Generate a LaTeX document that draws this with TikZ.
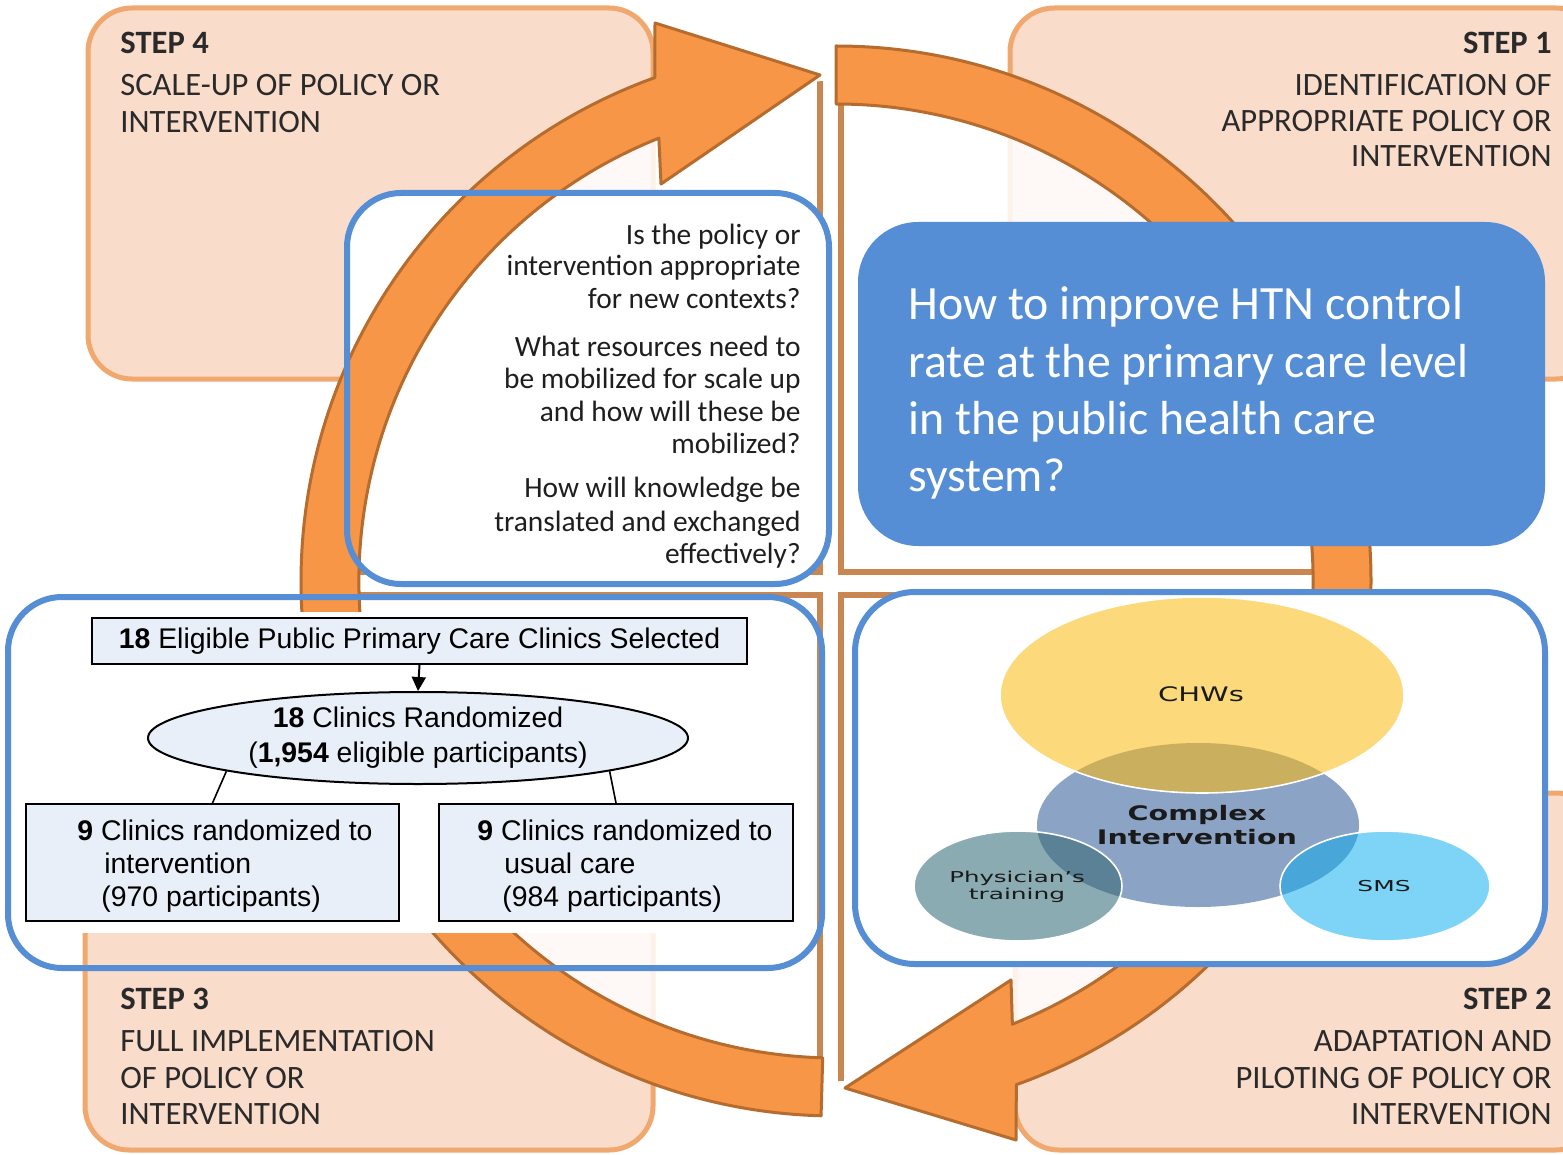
\documentclass[tikz,border=0pt]{standalone}
\usepackage{fontspec}
\usepackage{graphicx}
\setmainfont{Carlito}
\newfontfamily\arialf{Liberation Sans}
\newfontfamily\venf{DejaVu Sans}
\usetikzlibrary{shapes.geometric,arrows.meta,calc}
\definecolor{stepfill}{HTML}{FADCCB}
\definecolor{stepdraw}{HTML}{F0A86E}
\definecolor{ringfill}{HTML}{F79646}
\definecolor{ringdraw}{HTML}{B56C2E}
\definecolor{paneldraw}{HTML}{C98650}
\definecolor{bluebox}{HTML}{558ED5}
\definecolor{flowfill}{HTML}{E9EFF8}
\definecolor{txt}{HTML}{2A2A2A}
\definecolor{qcol}{HTML}{1E1E1E}
\definecolor{vchw}{HTML}{FCD97A}
\definecolor{vcplx}{HTML}{8BA3C5}
\definecolor{vchwcplx}{HTML}{C9AF5E}
\definecolor{vphys}{HTML}{8AABB1}
\definecolor{vphyscplx}{HTML}{5A8196}
\definecolor{vsms}{HTML}{7ED4F6}
\definecolor{vsmscplx}{HTML}{48A6D8}
\definecolor{vtext}{HTML}{1A1A1A}
\begin{document}
\begin{tikzpicture}[x=0.5pt,y=-0.5pt,
  stepbox/.style={draw=stepdraw, line width=2.5pt, fill=stepfill, rounded corners=22pt},
  panel/.style={draw=paneldraw, line width=3pt, fill=white, fill opacity=0.85},
  ring/.style={fill=ringfill, draw=ringdraw, line width=1.5pt, line join=round},
  blueline/.style={draw=bluebox, line width=3pt, rounded corners=27pt},
  steptitle/.style={inner sep=0pt, text=txt, font=\fontsize{16.3}{19}\selectfont\bfseries},
  steptxt/.style={inner sep=0pt, text=txt, font=\fontsize{16.3}{19}\selectfont},
  qtxt/.style={inner sep=0pt, text=qcol, anchor=base east, font=\fontsize{14.7}{17}\selectfont},
  htn/.style={inner sep=0pt, text=white, anchor=base west, font=\fontsize{23.9}{28}\selectfont},
  fnode/.style={draw=black, line width=1pt, fill=flowfill, inner sep=0pt, font=\arialf\fontsize{14.2}{17}\selectfont},
  ftxt/.style={inner sep=0pt, anchor=base west, font=\arialf\fontsize{14.2}{17}\selectfont},
  vtxt/.style={inner sep=0pt, anchor=base, text=vtext},
  vline/.style={draw=white, line width=0.8pt}
]
\useasboundingbox (0,0) rectangle (1563,1155);
\clip (0,0) rectangle (1563,1155);
\fill[white] (0,0) rectangle (1563,1155);

% step boxes
\draw[stepbox] (88,8) rectangle (653,379);
\draw[stepbox] (1010,8) rectangle (1600,379);
\draw[stepbox] (85,780) rectangle (653,1150);
\draw[stepbox] (1015,793) rectangle (1600,1150);

% central panels
\begin{scope}
\clip (836,581) circle[radius=500];
\draw[panel] (250,20) rectangle (820,572);
\draw[panel] (841,20) rectangle (1420,572);
\draw[panel] (250,595) rectangle (820,1150);
\draw[panel] (841,595) rectangle (1420,1150);
\end{scope}

% question box background
\fill[white, rounded corners=27pt] (347,193) rectangle (829,584);

% circular arrows
\path[ring] ($(836,581)+(91.6:535)$) arc[start angle=91.6, end angle=250.2, radius=535]
  -- (655,23) -- (820,75) -- (661,184)
  -- ($(836,581)+(248.2:477)$) arc[start angle=248.2, end angle=91.6, radius=477] -- cycle;
\path[ring] ($(836,581)+(-90:535)$) arc[start angle=-90, end angle=70.3, radius=535]
  -- (1016,1140) -- (845,1088) -- (1011,980)
  -- ($(836,581)+(68.3:477)$) arc[start angle=68.3, end angle=-90, radius=477] -- cycle;

% covering boxes
\fill[white] (14,612) rectangle (806,933);
\fill[white, rounded corners=30pt] (855,592) rectangle (1545,964);
\fill[bluebox, rounded corners=30pt] (858,222) rectangle (1545,546);

% blue outlines
\draw[blueline] (347,193) rectangle (829,584);
\draw[blueline] (8,597) rectangle (822,968);
\draw[blueline, rounded corners=30pt] (855,592) rectangle (1545,964);

% step texts
\node[steptitle, anchor=base west] (s4t) at (120,54) {STEP 4};
\node[steptxt, anchor=base west] (s4a) at (120,96) {SCALE-UP OF POLICY OR};
\node[steptxt, anchor=base west] (s4b) at (120,133) {INTERVENTION};

\node[steptitle, anchor=base east] (s1t) at (1552,54) {STEP 1};
\node[steptxt, anchor=base east] (s1a) at (1552,96) {IDENTIFICATION OF};
\node[steptxt, anchor=base east] (s1b) at (1552,132) {APPROPRIATE POLICY OR};
\node[steptxt, anchor=base east] (s1c) at (1552,167) {INTERVENTION};

\node[steptitle, anchor=base west] (s3t) at (120,1009) {STEP 3};
\node[steptxt, anchor=base west] (s3a) at (120,1051) {FULL IMPLEMENTATION};
\node[steptxt, anchor=base west] (s3b) at (120,1088) {OF POLICY OR};
\node[steptxt, anchor=base west] (s3c) at (120,1124) {INTERVENTION};

\node[steptitle, anchor=base east] (s2t) at (1552,1009) {STEP 2};
\node[steptxt, anchor=base east] (s2a) at (1552,1051) {ADAPTATION AND};
\node[steptxt, anchor=base east] (s2b) at (1552,1088) {PILOTING OF POLICY OR};
\node[steptxt, anchor=base east] (s2c) at (1552,1124) {INTERVENTION};

% question texts
\node[qtxt] (q1) at (801,245) {Is the policy or};
\node[qtxt] (q2) at (801,276) {intervention appropriate};
\node[qtxt] (q3) at (801,308) {for new contexts?};
\node[qtxt] (q4) at (801,356) {What resources need to};
\node[qtxt] (q5) at (801,388) {be mobilized for scale up};
\node[qtxt] (q6) at (801,421) {and how will these be};
\node[qtxt] (q7) at (801,453) {mobilized?};
\node[qtxt] (q8) at (801,497) {How will knowledge be};
\node[qtxt] (q9) at (801,531) {translated and exchanged};
\node[qtxt] (q10) at (801,563) {effectively?};

% HTN question
\node[htn] (h1) at (908,320) {How to improve HTN control};
\node[htn] (h2) at (908,377) {rate at the primary care level};
\node[htn] (h3) at (908,434) {in the public health care};
\node[htn] (h4) at (908,491) {system?};

% flowchart
\node[fnode, minimum width=327.5pt, minimum height=23pt] (top) at (419.5,641) {\textbf{18} Eligible Public Primary Care Clinics Selected};
\node[fnode, ellipse, minimum width=270pt, minimum height=46pt, align=center] (ell) at (418,738)
  {\textbf{18} Clinics Randomized\\[0.6pt](\textbf{1,954} eligible participants)};
\node[fnode, minimum width=186.5pt, minimum height=58.5pt] (lbox) at (212.5,862.5) {};
\node[fnode, minimum width=177pt, minimum height=58.5pt] (rbox) at (616,862.5) {};
\draw[line width=1pt, -{Triangle[length=7pt,width=7pt]}] (top.south) -- (ell.north);
\draw[line width=0.8pt] (ell.south west) -- (lbox.north);
\draw[line width=0.8pt] (ell.south east) -- (rbox.north);
\node[ftxt] (l1) at (77,840) {\textbf{9} Clinics randomized to};
\node[ftxt] (l2) at (104,873) {intervention};
\node[ftxt] (l3) at (101,906) {(970 participants)};
\node[ftxt] (r1) at (477,840) {\textbf{9} Clinics randomized to};
\node[ftxt] (r2) at (504,873) {usual care};
\node[ftxt] (r3) at (502,906) {(984 participants)};

% Venn diagram
\fill[vcplx] (1198,825) ellipse[x radius=161, y radius=82];
\fill[vchw] (1202,695) ellipse[x radius=202, y radius=98];
\fill[vphys] (1018,886) ellipse[x radius=104, y radius=55];
\fill[vsms] (1385,886) ellipse[x radius=105, y radius=55];
\begin{scope}
\clip (1202,695) ellipse[x radius=202, y radius=98];
\fill[vchwcplx] (1198,825) ellipse[x radius=161, y radius=82];
\end{scope}
\begin{scope}
\clip (1018,886) ellipse[x radius=104, y radius=55];
\fill[vphyscplx] (1198,825) ellipse[x radius=161, y radius=82];
\end{scope}
\begin{scope}
\clip (1385,886) ellipse[x radius=105, y radius=55];
\fill[vsmscplx] (1198,825) ellipse[x radius=161, y radius=82];
\end{scope}
\draw[vline] (1202,695) ellipse[x radius=202, y radius=98];
\draw[vline] (1018,886) ellipse[x radius=104, y radius=55];
\draw[vline] (1385,886) ellipse[x radius=105, y radius=55];

\node[vtxt, font=\venf\fontsize{10}{12}\selectfont] (chw) at (1201,701) {\scalebox{1.45}[1]{CHWs}};
\node[vtxt, font=\venf\fontsize{10}{12}\selectfont\bfseries] (cx1) at (1197,820) {\scalebox{1.43}[1]{Complex}};
\node[vtxt, font=\venf\fontsize{10}{12}\selectfont\bfseries] (cx2) at (1197,844) {\scalebox{1.43}[1]{Intervention}};
\node[vtxt, font=\venf\fontsize{7.5}{9}\selectfont] (ph1) at (1017,882) {\scalebox{1.63}[1]{Physician’s}};
\node[vtxt, font=\venf\fontsize{7.5}{9}\selectfont] (ph2) at (1017,899) {\scalebox{1.66}[1]{training}};
\node[vtxt, font=\venf\fontsize{7.5}{9}\selectfont] (sms) at (1384,891) {\scalebox{1.66}[1]{SMS}};
\end{tikzpicture}
\end{document}
